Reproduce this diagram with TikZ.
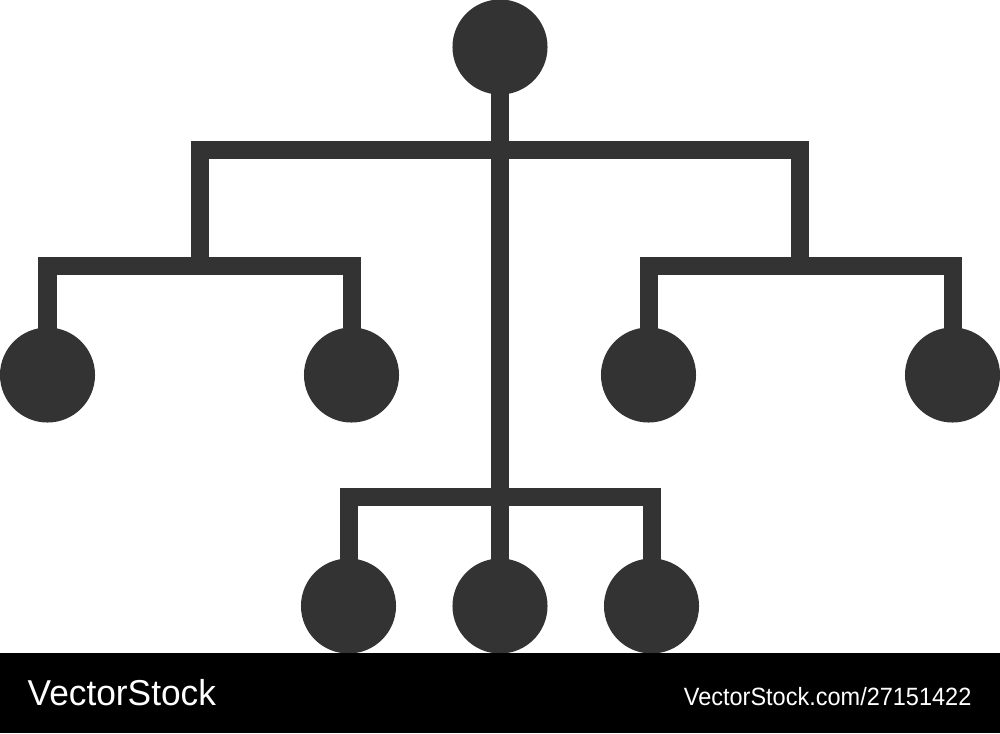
\documentclass[tikz,border=0pt]{standalone}
\usepackage{fontspec}
\setmainfont{Liberation Sans}
\definecolor{ink}{HTML}{333333}
\begin{document}
\begin{tikzpicture}[x=0.01cm,y=-0.01cm,
    dot/.style={circle,fill=ink,minimum size=0.95cm,inner sep=0pt},
    link/.style={draw=ink,line width=0.18cm,line join=miter},
    mark text/.style={text=white,inner sep=0pt}]
  \useasboundingbox (0,0) rectangle (1000,733);

  \node [dot] (root) at (500,47) {};
  \node [dot] (ll) at (47.5,375) {};
  \node [dot] (lr) at (351.5,375) {};
  \node [dot] (rl) at (648.5,375) {};
  \node [dot] (rr) at (952.5,375) {};
  \node [dot] (bl) at (348.5,606) {};
  \node [dot] (bm) at (500,606) {};
  \node [dot] (br) at (651.5,606) {};

  \coordinate (top) at (500,150);
  \coordinate (lhub) at (200,266);
  \coordinate (rhub) at (800,266);
  \coordinate (low) at (500,497);

  \draw [link] (root.center) -- (bm.center);
  \draw [link] (lhub) -- (lhub |- top) -- (rhub |- top) -- (rhub);
  \draw [link] (ll.center) -- (ll |- lhub) -- (lr |- lhub) -- (lr.center);
  \draw [link] (rl.center) -- (rl |- rhub) -- (rr |- rhub) -- (rr.center);
  \draw [link] (bl.center) -- (bl |- low) -- (br |- low) -- (br.center);

  % stock bar
  \fill [black] (0,653) rectangle (1000,733);
  \node [mark text,anchor=base west,xscale=0.98] (brand) at (27,705)
    {\fontsize{10.24pt}{12pt}\selectfont VectorStock};
  \node [mark text,anchor=base east,xscale=0.94] (ref) at (972,705)
    {\fontsize{7.11pt}{9pt}\selectfont VectorStock.com/27151422};
\end{tikzpicture}
\end{document}
